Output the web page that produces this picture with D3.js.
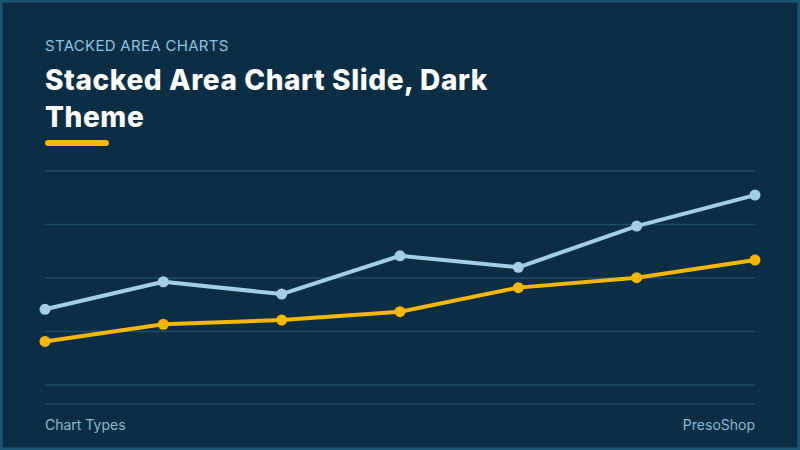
<!DOCTYPE html>
<html lang="en">
<head>
    <meta charset="UTF-8">
    <title>Stacked Area Chart Slide, Dark Theme</title>
    <style>
        body { margin: 0; background: #0b2e45; }
        svg { display: block; }
        .kicker { font-family: Inter, "Open Sans", sans-serif; font-size: 15px; fill: #8ec3e0; letter-spacing: 0.3px; }
        .title { font-family: Inter, "Open Sans", sans-serif; font-size: 28px; font-weight: 800; fill: #ffffff; letter-spacing: 0.6px; }
        .foot { font-family: Inter, "Open Sans", sans-serif; font-size: 14px; fill: #8fb9d2; }
        .grid line { stroke: #1f4c66; stroke-width: 1.5px; }
    </style>
    <script src="https://d3js.org/d3.v7.min.js"></script>
</head>
<body>
    <div id="chart"></div>
    <script>
        const width = 800;
        const height = 450;

        // data
        const categories = ["1", "2", "3", "4", "5", "6", "7"];
        const seriesTotal = [28.3, 38.6, 34.0, 48.3, 44.0, 59.4, 71.0];
        const seriesBase = [16.3, 22.7, 24.3, 27.4, 36.4, 40.1, 46.7];
        const yTicks = [0, 20, 40, 60, 80];

        const svg = d3.select("#chart").append("svg")
            .attr("width", width)
            .attr("height", height);

        // slide background + frame
        svg.append("rect")
            .attr("x", 1).attr("y", 1)
            .attr("width", width - 2).attr("height", height - 2)
            .attr("fill", "#0b2e45")
            .attr("stroke", "#1d5572")
            .attr("stroke-width", 3);

        svg.append("text").attr("class", "kicker")
            .attr("x", 45).attr("y", 51)
            .text("STACKED AREA CHARTS");

        svg.append("text").attr("class", "title")
            .attr("x", 45).attr("y", 90)
            .text("Stacked Area Chart Slide, Dark");
        svg.append("text").attr("class", "title")
            .attr("x", 45).attr("y", 127)
            .text("Theme");

        svg.append("rect")
            .attr("x", 45).attr("y", 140)
            .attr("width", 64).attr("height", 6)
            .attr("rx", 3)
            .attr("fill", "#f5b700");

        const x = d3.scalePoint()
            .domain(categories)
            .range([45, 755]);

        const y = d3.scaleLinear()
            .domain([0, 80])
            .range([385, 171]);

        const grid = svg.append("g").attr("class", "grid");
        grid.selectAll("line")
            .data(yTicks)
            .join("line")
            .attr("x1", 45).attr("x2", 755)
            .attr("y1", d => y(d)).attr("y2", d => y(d));

        // footer rule
        grid.append("line")
            .attr("x1", 45).attr("x2", 755)
            .attr("y1", 404).attr("y2", 404);

        const line = d3.line()
            .x((d, i) => x(categories[i]))
            .y(d => y(d));

        const series = [
            { values: seriesTotal, color: "#a2cfe7" },
            { values: seriesBase, color: "#f5b700" }
        ];

        series.forEach(s => {
            svg.append("path")
                .attr("d", line(s.values))
                .attr("fill", "none")
                .attr("stroke", s.color)
                .attr("stroke-width", 4)
                .attr("stroke-linejoin", "round");

            svg.append("g")
                .selectAll("circle")
                .data(s.values)
                .join("circle")
                .attr("cx", (d, i) => x(categories[i]))
                .attr("cy", d => y(d))
                .attr("r", 5.5)
                .attr("fill", s.color);
        });

        svg.append("text").attr("class", "foot")
            .attr("x", 45).attr("y", 430)
            .text("Chart Types");

        svg.append("text").attr("class", "foot")
            .attr("x", 755).attr("y", 430)
            .attr("text-anchor", "end")
            .text("PresoShop");
    </script>
</body>
</html>
